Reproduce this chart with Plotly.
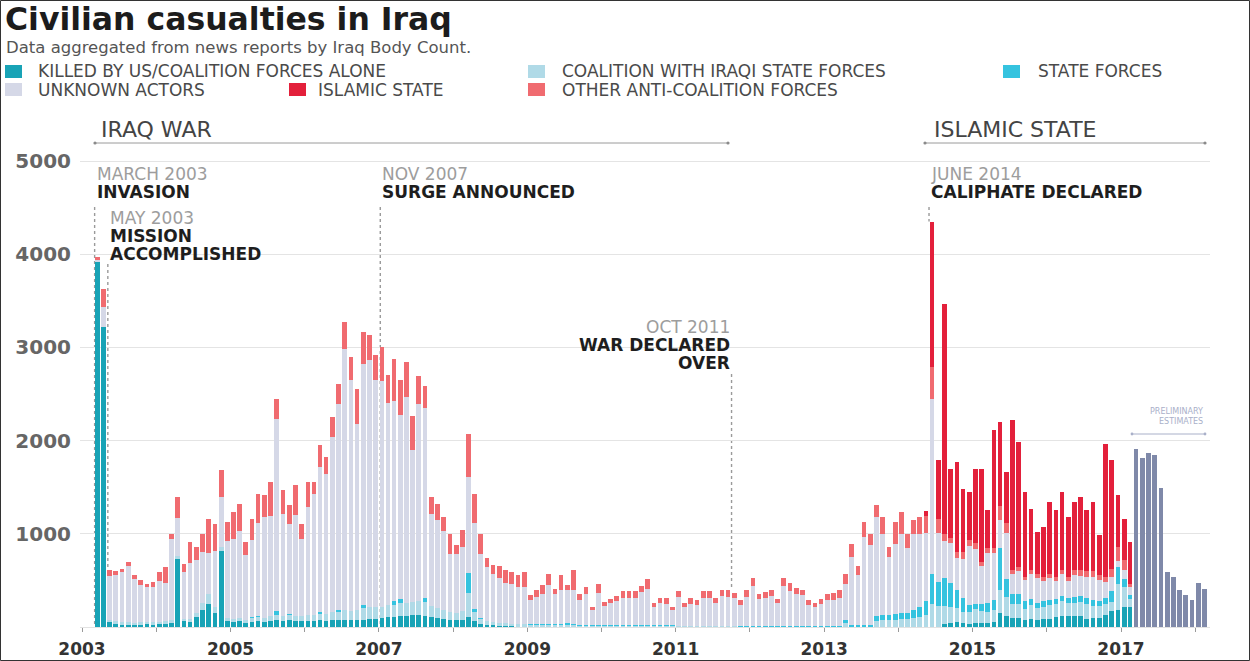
import pandas as pd
import plotly.graph_objects as go

# ---------------- DATA (monthly civilian deaths) ----------------
# Confirmed series: March 2003 .. February 2017 (one line per year)
us_alone = (
    [3920, 3220, 60, 40, 30, 30, 25, 30, 35, 30] +                       # 2003 (Mar-Dec)
    [30, 35, 40, 735, 60, 50, 110, 180, 250, 150, 820, 60] +             # 2004
    [50, 60, 40, 50, 60, 50, 60, 70, 60, 70, 60, 60] +                   # 2005
    [60, 60, 70, 60, 70, 70, 80, 70, 70, 80, 90, 90] +                   # 2006
    [100, 110, 110, 120, 120, 130, 130, 120, 110, 100, 90, 80] +         # 2007
    [70, 80, 110, 60, 30, 20, 20, 15, 15, 10, 10, 10] +                  # 2008
    [10, 8, 8, 10, 8, 8, 8, 8, 5, 5, 5, 5] +                             # 2009
    [5, 5, 5, 5, 5, 5, 5, 5, 3, 3, 3, 3] +                               # 2010
    [3, 3, 3, 3, 3, 3, 3, 3, 3, 3, 2, 2] +                               # 2011
    [0, 0, 0, 0, 0, 0, 0, 0, 0, 0, 0, 0] +                               # 2012
    [0, 0, 0, 0, 0, 0, 0, 0, 0, 0, 0, 0] +                               # 2013
    [0, 0, 0, 0, 0, 0, 0, 30, 40, 50, 40, 30] +                          # 2014
    [40, 40, 40, 50, 150, 120, 100, 100, 76, 88, 80, 86] +               # 2015
    [90, 106, 118, 116, 118, 118, 90, 100, 100, 130, 170, 179] +         # 2016
    [215, 215]                                                           # 2017 (Jan-Feb)
)
coalition_iraqi = (
    [0, 0, 20, 20, 20, 20, 20, 20, 20, 20] +
    [25, 25, 30, 30, 30, 40, 40, 80, 100, 60, 40, 40] +
    [40, 40, 40, 50, 50, 50, 60, 60, 60, 60, 60, 60] +
    [70, 70, 80, 80, 90, 100, 100, 100, 110, 120, 120, 120] +
    [120, 130, 130, 140, 140, 140, 150, 150, 120, 100, 90, 80] +
    [80, 90, 250, 100, 60, 40, 30, 30, 25, 25, 20, 20] +
    [15, 15, 15, 15, 15, 15, 15, 15, 10, 10, 10, 10] +
    [10, 10, 10, 10, 10, 10, 10, 10, 10, 10, 10, 10] +
    [8, 8, 8, 8, 8, 8, 8, 8, 8, 8, 8, 8] +
    [5, 5, 5, 5, 5, 5, 5, 5, 5, 5, 5, 5] +
    [5, 5, 5, 40, 10, 10, 10, 10, 60, 70, 70, 70] +
    [90, 90, 100, 110, 130, 250, 230, 200, 180, 150, 120, 130] +
    [150, 130, 120, 130, 250, 200, 150, 150, 120, 150, 120, 130] +
    [150, 140, 160, 140, 140, 150, 160, 130, 130, 120, 100, 286] +
    [214, 90]
)
state_forces = (
    [0, 0, 0, 0, 0, 0, 0, 0, 0, 0] +
    [0, 0, 0, 0, 0, 0, 0, 0, 0, 0, 0, 0] +
    [0, 0, 0, 10, 10, 0, 0, 40, 0, 10, 0, 0] +
    [0, 0, 10, 0, 0, 10, 0, 0, 0, 40, 0, 0] +
    [0, 0, 40, 40, 0, 0, 0, 40, 0, 0, 0, 0] +
    [0, 0, 215, 30, 10, 0, 0, 0, 0, 0, 0, 0] +
    [5, 5, 5, 10, 5, 10, 20, 10, 5, 5, 5, 5] +
    [5, 5, 5, 5, 5, 5, 5, 5, 5, 5, 5, 5] +
    [5, 5, 5, 5, 5, 5, 5, 5, 5, 5, 5, 5] +
    [10, 10, 10, 10, 10, 10, 10, 10, 10, 10, 10, 10] +
    [10, 10, 10, 40, 10, 10, 10, 10, 60, 60, 60, 70] +
    [60, 60, 80, 100, 150, 320, 250, 300, 250, 200, 150, 80] +
    [60, 80, 100, 110, 450, 200, 100, 100, 80, 60, 60, 60] +
    [50, 50, 60, 50, 60, 60, 60, 60, 50, 60, 120, 179] +
    [87, 40]
)
unknown_actors = (
    [20, 210, 465, 500, 537, 608, 470, 396, 370, 378] +
    [435, 414, 872, 400, 500, 592, 568, 542, 443, 609, 531, 827] +
    [854, 934, 692, 823, 991, 1083, 1066, 2066, 1097, 966, 1080, 829] +
    [1156, 1301, 1560, 1504, 1878, 2216, 2803, 2477, 2003, 2585, 2650, 2435] +
    [2424, 2160, 2150, 1975, 2208, 1632, 2110, 2044, 985, 944, 855, 627] +
    [636, 687, 1035, 921, 687, 580, 515, 482, 428, 430, 400, 400] +
    [255, 296, 329, 413, 329, 362, 349, 360, 268, 339, 160, 341] +
    [207, 235, 256, 295, 287, 295, 352, 385, 196, 237, 229, 160] +
    [303, 198, 235, 223, 295, 300, 242, 315, 311, 290, 223, 307] +
    [426, 281, 292, 317, 239, 424, 374, 337, 325, 225, 198, 234] +
    [273, 277, 295, 386, 732, 540, 946, 857, 1061, 871, 621, 755] +
    [850, 702, 815, 790, 730, 1880, 526, 390, 430, 345, 420, 630] +
    [590, 400, 532, 500, 300, 493, 218, 250, 230, 270, 270, 220] +
    [240, 200, 230, 190, 240, 220, 230, 250, 220, 170, 150, 64] +
    [100, 80]
)
other_anti_coalition = (
    [30, 200, 70, 40, 40, 40, 40, 55, 40, 55] +
    [100, 170, 60, 230, 90, 230, 140, 200, 370, 290, 290, 200] +
    [290, 290, 140, 230, 320, 230, 370, 215, 250, 200, 320, 160] +
    [270, 125, 230, 180, 215, 215, 290, 250, 375, 340, 270, 270] +
    [360, 300, 450, 375, 375, 360, 300, 230, 180, 180, 145, 215] +
    [90, 180, 465, 320, 215, 105, 105, 125, 140, 125, 125, 160] +
    [55, 70, 90, 125, 55, 160, 55, 215, 70, 70, 35, 105] +
    [40, 50, 60, 70, 80, 70, 70, 110, 40, 60, 60, 40] +
    [70, 40, 60, 50, 70, 70, 50, 70, 70, 60, 50, 70] +
    [90, 60, 70, 60, 50, 90, 80, 70, 60, 50, 40, 50] +
    [70, 70, 90, 107, 143, 90, 161, 125, 125, 179, 107, 232] +
    [230, 150, 150, 180, 180, 340, 150, 80, 60, 60, 70, 60] +
    [60, 50, 60, 60, 150, 100, 40, 40, 30, 40, 40, 40] +
    [40, 40, 40, 40, 50, 60, 60, 60, 60, 60, 80, 150] +
    [100, 40]
)
islamic_state = (
    [0] * 10 + [0] * 12 * 10 +                                           # 2003-2013: none
    [0, 0, 0, 0, 60, 1560, 640, 2470, 740, 965, 685, 519] +              # 2014
    [800, 1000, 400, 1260, 900, 550, 1610, 1345, 913, 662, 449, 537] +   # 2015
    [771, 716, 841, 644, 733, 787, 652, 741, 424, 1428, 1169, 555] +     # 2016
    [447, 447]                                                           # 2017
)
# Preliminary estimates (total only): March 2017 .. February 2018
preliminary = [1914, 1817, 1871, 1850, 1495, 591, 538, 398, 344, 290, 473, 409]

months_confirmed = pd.date_range("2003-03-01", periods=len(us_alone), freq="MS")
months_prelim = pd.date_range("2017-03-01", periods=len(preliminary), freq="MS")

series = [
    ("KILLED BY US/COALITION FORCES ALONE", us_alone, "#18a3b6"),
    ("COALITION WITH IRAQI STATE FORCES", coalition_iraqi, "#b0dae7"),
    ("STATE FORCES", state_forces, "#35c3df"),
    ("UNKNOWN ACTORS", unknown_actors, "#d5d8e7"),
    ("OTHER ANTI-COALITION FORCES", other_anti_coalition, "#f06b70"),
    ("ISLAMIC STATE", islamic_state, "#e3203b"),
]
PRELIM_COLOR = "#7f89a9"

fig = go.Figure()
for name, vals, col in series:
    fig.add_trace(go.Bar(
        x=months_confirmed, y=vals, name=name, marker_color=col,
        marker_line_width=0, xperiod="M1", xperiodalignment="middle",
        showlegend=False,
    ))
fig.add_trace(go.Bar(
    x=months_prelim, y=preliminary, name="PRELIMINARY ESTIMATES",
    marker_color=PRELIM_COLOR, marker_line_width=0,
    xperiod="M1", xperiodalignment="middle", showlegend=False,
))

# ---------------- LAYOUT ----------------
W, H = 1250, 661
ML, MR, MT, MB = 80, 40, 110, 34
PW, PH = W - ML - MR, H - MT - MB
YMAX = PH / 0.0932


def px(xp):
    return (xp - ML) / PW


def py(yp):
    return (H - MB - yp) / PH


FONT = "DejaVu Sans"
annotations = []
shapes = []


def text(x, y, s, size, color, bold=False, xanchor="left", xref="paper"):
    annotations.append(dict(
        x=x, y=y, xref=xref, yref="paper", text=s, showarrow=False,
        xanchor=xanchor, yanchor="middle",
        font=dict(family=FONT, size=size, color=color,
                  weight="bold" if bold else "normal"),
    ))


# Title and subtitle
text(px(3), py(19.5), "Civilian casualties in Iraq", 31.5, "#1c1c1c", bold=True)
text(px(4), py(47), "Data aggregated from news reports by Iraq Body Count.", 16.5, "#555555")

# Custom legend
legend_items = [
    (5, 71.5, 36, series[0]),
    (528, 71.5, 560, series[1]),
    (1003, 71.5, 1036, series[2]),
    (5, 89.5, 36, series[3]),
    (289, 89.5, 316, series[5]),
    (528, 89.5, 560, series[4]),
]
for sx, sy, tx, (name, _, col) in legend_items:
    shapes.append(dict(type="rect", xref="paper", yref="paper",
                       x0=px(sx), x1=px(sx + 17), y0=py(sy + 6.5), y1=py(sy - 6.5),
                       fillcolor=col, line_width=0))
    text(px(tx), py(sy), name, 17, "#4a4a4a")

# Period brackets
for label, x0, x1, tx in [("IRAQ WAR", 95, 728, 99), ("ISLAMIC STATE", 925, 1205, 932)]:
    text(px(tx), py(129), label, 22, "#444444")
    shapes.append(dict(type="line", xref="paper", yref="paper",
                       x0=px(x0), x1=px(x1), y0=py(143), y1=py(143),
                       line=dict(color="#9a9a9a", width=1)))
    for xe in (x0, x1):
        shapes.append(dict(type="circle", xref="paper", yref="paper",
                           xsizemode="pixel", ysizemode="pixel",
                           xanchor=px(xe), yanchor=py(143),
                           x0=-1.6, x1=1.6, y0=-1.6, y1=1.6,
                           fillcolor="#8a8a8a", line_width=0))

# Event markers
EV_SIZE, EV_STEP = 17, 18
events = [
    # line date, label date, anchor, grey line, bold lines, first text y(px), line top(px), line bottom (value)
    ("2003-03-04", "2003-03-04", "left", "MARCH 2003", ["INVASION"], 174, 207, 0),
    ("2003-05-08", "2003-05-10", "left", "MAY 2003", ["MISSION", "ACCOMPLISHED"], 218, 264, 0),
    ("2007-01-08", "2007-01-08", "left", "NOV 2007", ["SURGE ANNOUNCED"], 174, 207, 0),
    ("2011-10-03", "2011-10-03", "right", "OCT 2011", ["WAR DECLARED", "OVER"], 327, 374, 420),
    ("2014-06-01", "2014-06-01", "left", "JUNE 2014", ["CALIPHATE DECLARED"], 174, 207, 4350),
]
for line_x, lab_x, anchor, grey, bolds, ty, line_top, line_bottom in events:
    text(lab_x, py(ty), grey, EV_SIZE, "#9d9d9d", xanchor=anchor, xref="x")
    for i, b in enumerate(bolds):
        text(lab_x, py(ty + EV_STEP * (i + 1)), b, EV_SIZE, "#1e1e1e", bold=True,
             xanchor=anchor, xref="x")
    shapes.append(dict(type="line", xref="x", yref="y", layer="below",
                       x0=line_x, x1=line_x, y0=(H - MB - line_top) / PH * YMAX, y1=line_bottom,
                       line=dict(color="#9a9a9a", width=1.4, dash="dot")))

# Preliminary estimates label
text(px(1205), py(412), "PRELIMINARY", 8, "#a9b0c9", xanchor="right")
text(px(1205), py(422), "ESTIMATES", 8, "#a9b0c9", xanchor="right")
shapes.append(dict(type="line", xref="paper", yref="paper",
                   x0=px(1132), x1=px(1205), y0=py(434), y1=py(434),
                   line=dict(color="#a9b0c9", width=1)))
for xe in (1132, 1205):
    shapes.append(dict(type="circle", xref="paper", yref="paper",
                       xsizemode="pixel", ysizemode="pixel",
                       xanchor=px(xe), yanchor=py(434),
                       x0=-1.4, x1=1.4, y0=-1.4, y1=1.4,
                       fillcolor="#a9b0c9", line_width=0))

# Frame around the whole picture
shapes.append(dict(type="rect", xref="paper", yref="paper",
                   x0=px(0.5), x1=px(W - 0.5), y0=py(H - 0.5), y1=py(0.5),
                   line=dict(color="#333333", width=1), fillcolor="rgba(0,0,0,0)"))

fig.update_layout(
    width=W, height=H,
    margin=dict(l=ML, r=MR, t=MT, b=MB, autoexpand=False),
    barmode="stack", bargap=0.22,
    plot_bgcolor="white", paper_bgcolor="white",
    font=dict(family=FONT),
    annotations=annotations, shapes=shapes,
    showlegend=False,
    xaxis=dict(
        type="date", range=["2002-12-22", "2018-03-15"],
        tick0="2003-01-01", dtick="M24", tickformat="%Y",
        ticks="outside", ticklen=4, tickcolor="#9a9a9a",
        minor=dict(dtick="M12", tick0="2003-01-01", ticks="outside", ticklen=4, tickcolor="#9a9a9a"),
        showgrid=False, showline=True, linecolor="#e2e2e2", zeroline=False,
        tickfont=dict(family=FONT, size=17, color="#333333", weight="bold"),
        ticklabelstandoff=3, automargin=False, fixedrange=True,
    ),
    yaxis=dict(
        range=[0, YMAX], tickvals=[1000, 2000, 3000, 4000, 5000],
        ticktext=["1000", "2000", "3000", "4000", "5000"],
        showgrid=True, gridcolor="#e4e4e4", gridwidth=1,
        zeroline=False, showline=False, ticks="",
        tickfont=dict(family=FONT, size=20, color="#666666", weight="bold"),
        ticklabelstandoff=8, automargin=False, fixedrange=True,
    ),
)

fig.write_html("out.html")
